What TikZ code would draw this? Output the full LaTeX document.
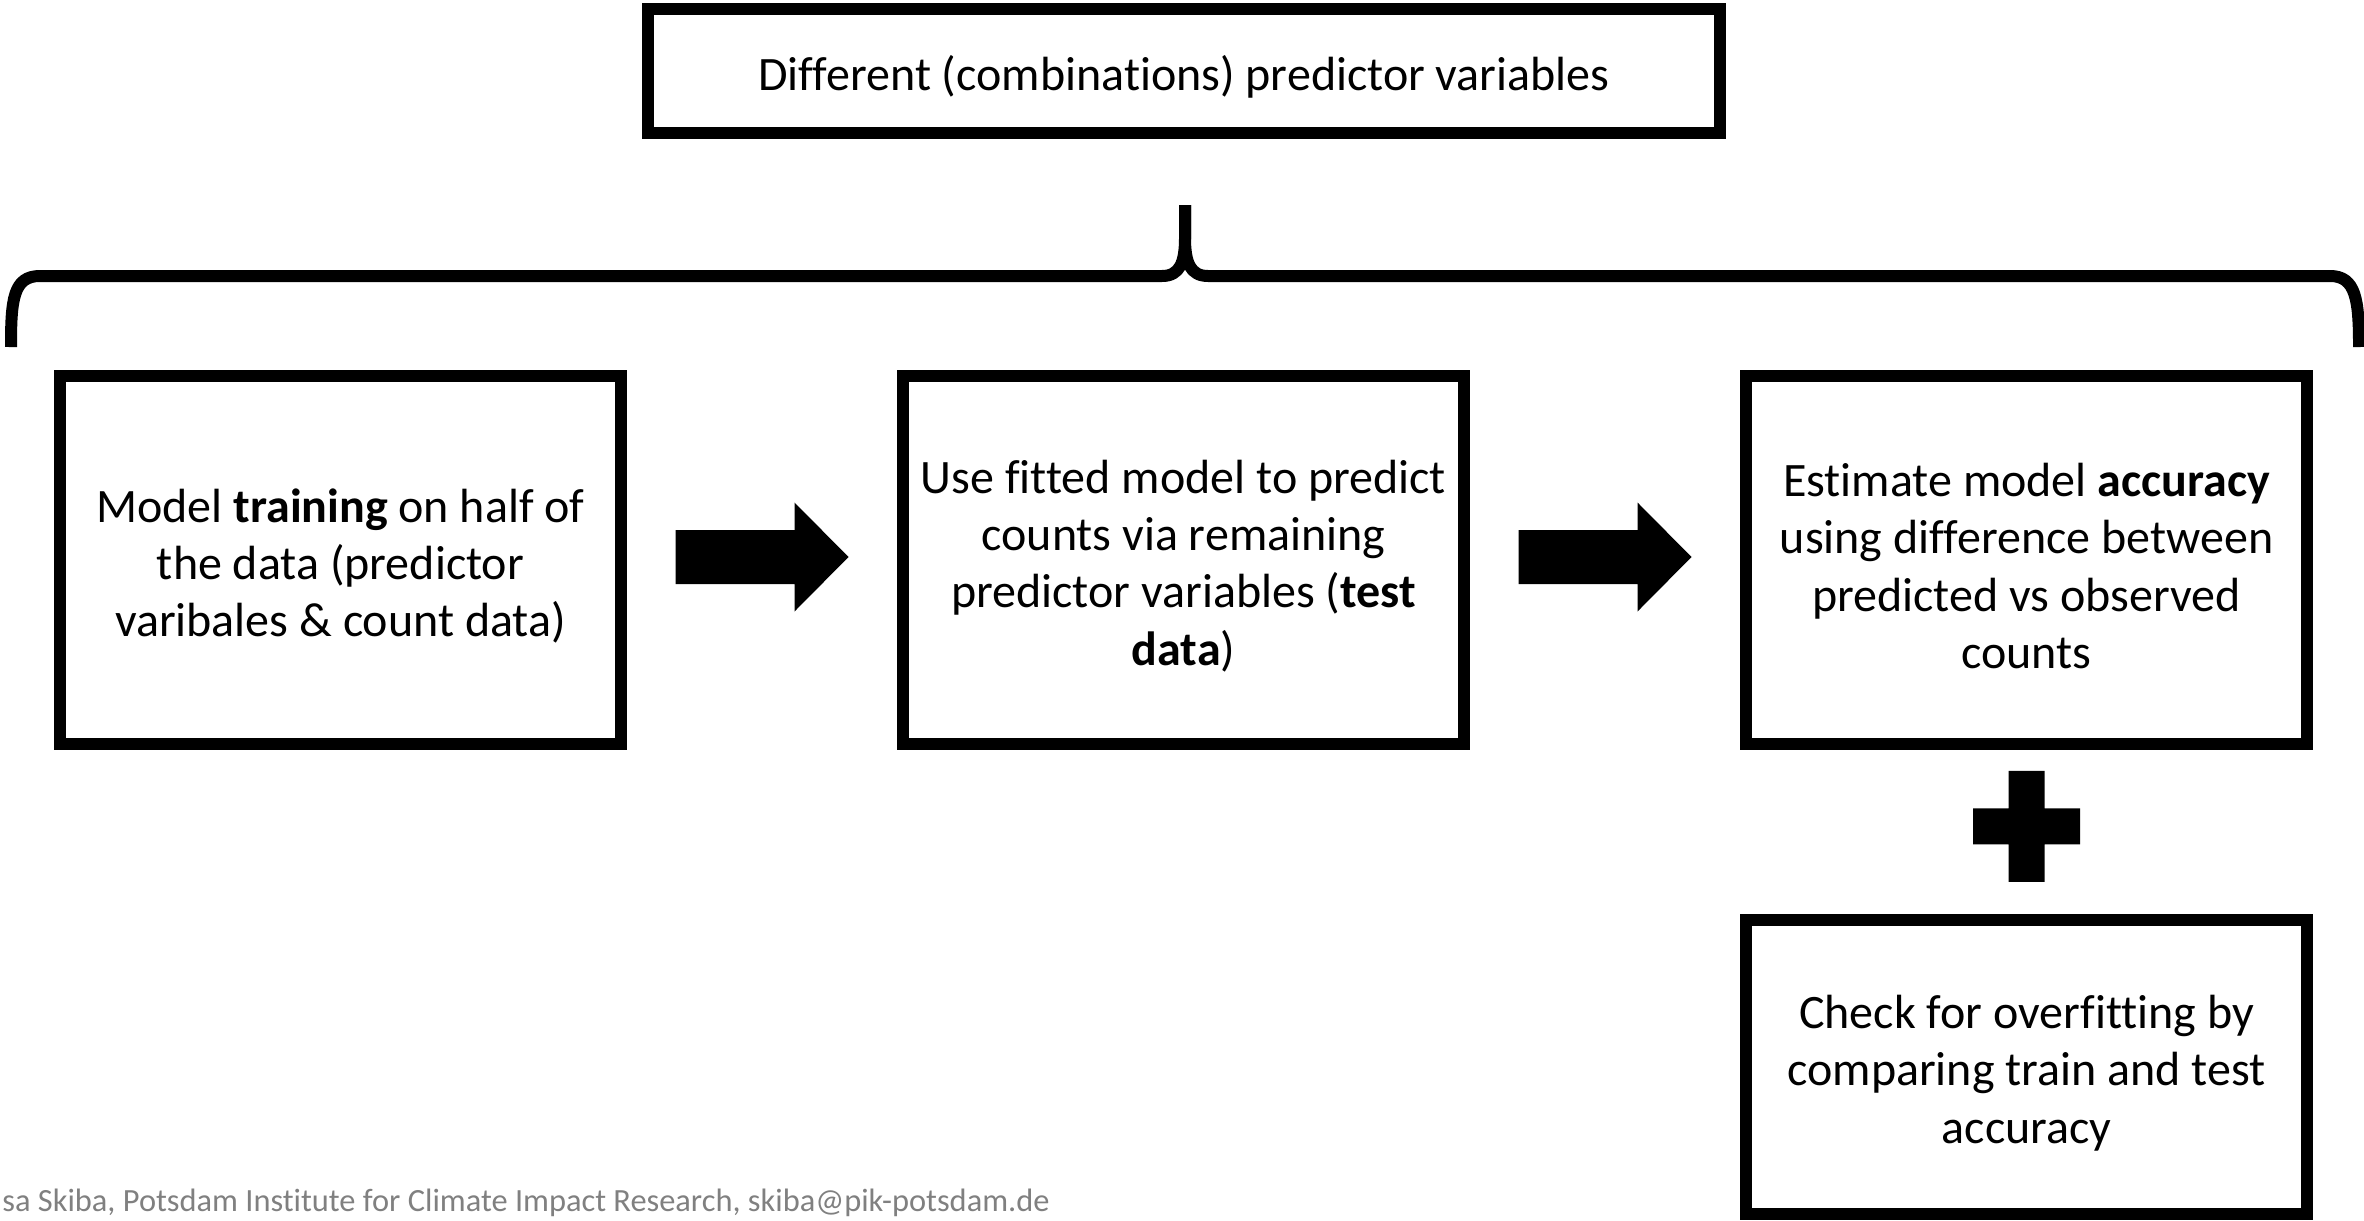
\documentclass[tikz,border=0pt]{standalone}
\usepackage{fontspec}
\setmainfont{Carlito}[Ligatures={NoCommon,NoRare,NoDiscretionary}]
\usetikzlibrary{calc}

\tikzset{
  stepbox/.style={draw=black, line width=6pt, rectangle, inner sep=0pt,
    minimum width=280.5pt, minimum height=184pt},
  boxtext/.style={inner sep=0pt, align=center, yshift=-3pt,
    font=\fontsize{24}{28.6}\selectfont},
  bracket/.style={draw=black, line width=6pt, line join=round},
  blockarrow/.style={fill=black},
  footer/.style={text=black!50, font=\fontsize{16.2}{19}\selectfont, inner sep=0pt}
}

\begin{document}
\begin{tikzpicture}[x=0.5pt, y=-0.5pt]
  \useasboundingbox (0,0) rectangle (2364,1220);

  % header box
  \node[stepbox, minimum width=536pt, minimum height=62pt] (top) at (1184,71) {};
  \node[boxtext] (toptext) at (top.center) {Different (combinations) predictor variables};

  % curly bracket spanning the three steps
  \draw[bracket] (11,347) .. controls (11,300) and (13,276) .. (40,276)
    -- (1162,276) .. controls (1180,276) and (1185,262) .. (1185,238) -- (1185,205);
  \draw[bracket] (1185,205) -- (1185,238) .. controls (1185,262) and (1190,276) .. (1208,276)
    -- (2330,276) .. controls (2356,276) and (2359,300) .. (2359,347);

  % workflow steps
  \node[stepbox] (b1) at (340.5,560) {};
  \node[stepbox] (b2) at (1183.5,560) {};
  \node[stepbox] (b3) at (2026.5,560) {};
  \node[stepbox, minimum height=147pt] (b4) at (2026.5,1067) {};

  \node[boxtext] (t1) at (b1.center)
    {Model \textbf{training} on half of\\the data (predictor\\varibales \& count data)};
  \node[boxtext] (t2) at (b2.center)
    {Use fitted model to predict\\counts via remaining\\predictor variables (\textbf{test}\\\textbf{data})};
  \node[boxtext] (t3) at (b3.center)
    {Estimate model \textbf{accuracy}\\using difference between\\predicted vs observed\\counts};
  \node[boxtext] (t4) at (b4.center)
    {Check for overfitting by\\comparing train and test\\accuracy};

  % block arrows between steps
  \coordinate (a1) at ($(b1.east)!0.5!(b2.west)+(0,-3)$);
  \coordinate (a2) at ($(b2.east)!0.5!(b3.west)+(0,-3)$);
  \foreach \c in {a1,a2}{
    \fill[blockarrow] (\c) ++(-86.5,-27) -- ++(119,0) -- ++(0,-27.5) -- ++(54,54.5)
      -- ++(-54,54.5) -- ++(0,-27.5) -- ++(-119,0) -- cycle;
  }

  % plus sign between accuracy and overfitting check
  \coordinate (p) at ($(b3.south)!0.466!(b4.north)$);
  \fill[blockarrow] (p) ++(-18,-55.5) -- ++(36,0) -- ++(0,37.5) -- ++(35.5,0)
    -- ++(0,36) -- ++(-35.5,0) -- ++(0,37.5) -- ++(-36,0) -- ++(0,-37.5)
    -- ++(-35.5,0) -- ++(0,-36) -- ++(35.5,0) -- cycle;

  % footer credit line
  \node[footer, anchor=base west] (credit) at (2,1211)
    {sa Skiba, Potsdam Institute for Climate Impact Research, skiba@pik-potsdam.de};
\end{tikzpicture}
\end{document}
